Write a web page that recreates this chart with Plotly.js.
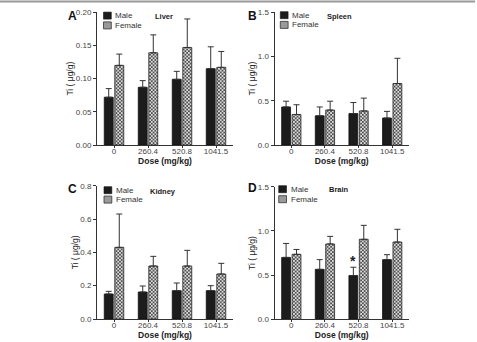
<!DOCTYPE html>
<html>
<head>
<meta charset="utf-8">
<script src="https://cdn.plot.ly/plotly-3.0.1.min.js"></script>
<style>html,body{margin:0;padding:0;background:#fff}#chart{width:477px;height:342px}</style>
</head>
<body>
<div id="chart"></div>
<script>
const doses = ['0', '260.4', '520.8', '1041.5'];
const seriesNames = ['Male', 'Female'];

// Liver (A)
const liverMale = [0.072, 0.087, 0.099, 0.115];
const liverMaleErr = [0.013, 0.010, 0.012, 0.033];
const liverFemale = [0.120, 0.139, 0.147, 0.117];
const liverFemaleErr = [0.017, 0.027, 0.043, 0.024];

// Spleen (B)
const spleenMale = [0.43, 0.33, 0.355, 0.305];
const spleenMaleErr = [0.065, 0.10, 0.125, 0.075];
const spleenFemale = [0.345, 0.395, 0.385, 0.695];
const spleenFemaleErr = [0.11, 0.10, 0.145, 0.285];

// Kidney (C)
const kidneyMale = [0.150, 0.162, 0.170, 0.170];
const kidneyMaleErr = [0.016, 0.036, 0.046, 0.030];
const kidneyFemale = [0.430, 0.318, 0.318, 0.270];
const kidneyFemaleErr = [0.200, 0.058, 0.094, 0.064];

// Brain (D)
const brainMale = [0.70, 0.565, 0.495, 0.675];
const brainMaleErr = [0.158, 0.110, 0.094, 0.056];
const brainFemale = [0.735, 0.852, 0.905, 0.874];
const brainFemaleErr = [0.055, 0.086, 0.158, 0.144];

const panels = [
  {letter: 'A', organ: 'Liver', m: liverMale, me: liverMaleErr, f: liverFemale, fe: liverFemaleErr,
   ticks: [0, 0.05, 0.10, 0.15, 0.20], fmt: '.2f', max: 0.20},
  {letter: 'B', organ: 'Spleen', m: spleenMale, me: spleenMaleErr, f: spleenFemale, fe: spleenFemaleErr,
   ticks: [0, 0.5, 1.0, 1.5], fmt: '.1f', max: 1.5},
  {letter: 'C', organ: 'Kidney', m: kidneyMale, me: kidneyMaleErr, f: kidneyFemale, fe: kidneyFemaleErr,
   ticks: [0, 0.2, 0.4, 0.6, 0.8], fmt: '.1f', max: 0.8},
  {letter: 'D', organ: 'Brain', m: brainMale, me: brainMaleErr, f: brainFemale, fe: brainFemaleErr,
   ticks: [0, 0.5, 1.0, 1.5], fmt: '.1f', max: 1.5}
];

// significance star: Brain, male, 520.8
const starDose = '520.8';
const starY = 0.66;

const W = 477, H = 342;
const xDom = [[97, 233], [274.5, 409], [97, 233], [274.5, 409]];
const yPix = [[145, 12.3], [145, 12.3], [319, 185.7], [319.3, 186.7]];
// legend key placement: swatch left x, male centre y, female centre y
const keyPos = [[103.5, 15.6, 25.4], [280.3, 15.2, 24.9], [104, 190.2, 199.6], [278.7, 189.2, 199.2]];
const letterPos = [[72, 16], [252, 16], [72, 189], [252, 188]];
const organPos = [[164, 16], [339, 16], [163, 191], [339, 189]];

const px = v => v / W;
const py = v => 1 - v / H;

const maleColor = '#1c1c1c';
const femalePattern = {shape: 'x', size: 2.5, solidity: 0.5, fgcolor: '#333', bgcolor: '#dcdcdc'};

const traces = [];
const layout = {
  width: W, height: H,
  margin: {l: 0, r: 0, t: 0, b: 0},
  paper_bgcolor: '#fff', plot_bgcolor: '#fff',
  barmode: 'group', bargap: 0.38, bargroupgap: 0.15,
  font: {family: 'Liberation Sans, Arial, sans-serif', size: 8, color: '#333'},
  showlegend: false,
  annotations: [],
  shapes: [{type: 'line', xref: 'paper', yref: 'paper', x0: 0, x1: 0.996, y0: py(1.5), y1: py(1.5),
            line: {color: '#999', width: 2}}]
};

panels.forEach((p, i) => {
  const n = i + 1;
  const sfx = n === 1 ? '' : String(n);
  const xa = 'x' + sfx, ya = 'y' + sfx;
  traces.push({
    type: 'bar', x: doses, y: p.m, name: seriesNames[0], xaxis: xa, yaxis: ya,
    marker: {color: maleColor, line: {color: '#111', width: 0.8}},
    error_y: {type: 'data', array: p.me, arrayminus: p.me.map(() => 0), symmetric: false,
              color: '#333', thickness: 1, width: 3}
  });
  traces.push({
    type: 'bar', x: doses, y: p.f, name: seriesNames[1], xaxis: xa, yaxis: ya,
    marker: {color: '#d8d8d8', line: {color: '#222', width: 0.8}, pattern: femalePattern},
    error_y: {type: 'data', array: p.fe, arrayminus: p.fe.map(() => 0), symmetric: false,
              color: '#333', thickness: 1, width: 3}
  });
  layout['xaxis' + sfx] = {
    type: 'category', domain: [px(xDom[i][0]), px(xDom[i][1])], range: [-0.5, 3.5],
    anchor: ya, showline: true, linecolor: '#333', linewidth: 1,
    ticks: 'outside', ticklen: 2, tickcolor: '#333', showgrid: false, zeroline: false,
    ticklabelstandoff: -4,
    tickfont: {size: 8, color: '#444'},
    title: {text: 'Dose (mg/kg)', font: {size: 8.5, color: '#222', weight: 'bold'}, standoff: 0},
    fixedrange: true
  };
  layout['yaxis' + sfx] = {
    domain: [py(yPix[i][0]), py(yPix[i][1])], range: [0, p.max],
    anchor: xa, showline: true, linecolor: '#333', linewidth: 1,
    ticks: 'outside', ticklen: 3, tickcolor: '#333', showgrid: false, zeroline: false,
    tickvals: p.ticks, tickformat: p.fmt, tickfont: {size: 8, color: '#444'},
    title: {text: 'Ti ( μg/g)', font: {size: 8.5, color: '#222'}, standoff: 0},
    fixedrange: true
  };

  // legend key: swatches + labels
  const k = keyPos[i];
  const sw = 7.8, sh = 7;
  layout.shapes.push({type: 'rect', xref: 'paper', yref: 'paper',
    x0: px(k[0]), x1: px(k[0] + sw), y0: py(k[1] + sh / 2), y1: py(k[1] - sh / 2),
    fillcolor: maleColor, line: {color: '#111', width: 0.6}});
  layout.shapes.push({type: 'rect', xref: 'paper', yref: 'paper',
    x0: px(k[0]), x1: px(k[0] + sw), y0: py(k[2] + sh / 2), y1: py(k[2] - sh / 2),
    fillcolor: '#9a9a9a', line: {color: '#333', width: 0.8}});
  layout.annotations.push({xref: 'paper', yref: 'paper', x: px(k[0] + sw + 2), y: py(k[1]),
    text: seriesNames[0], showarrow: false, xanchor: 'left', yanchor: 'middle',
    font: {size: 8, color: '#333'}});
  layout.annotations.push({xref: 'paper', yref: 'paper', x: px(k[0] + sw + 2), y: py(k[2]),
    text: seriesNames[1], showarrow: false, xanchor: 'left', yanchor: 'middle',
    font: {size: 8, color: '#333'}});

  layout.annotations.push({
    xref: 'paper', yref: 'paper', x: px(letterPos[i][0]), y: py(letterPos[i][1]),
    text: '<b>' + p.letter + '</b>', showarrow: false, font: {size: 12, color: '#111'},
    xanchor: 'center', yanchor: 'middle'
  });
  layout.annotations.push({
    xref: 'paper', yref: 'paper', x: px(organPos[i][0]), y: py(organPos[i][1]),
    text: '<b>' + p.organ + '</b>', showarrow: false, font: {size: 7.5, color: '#222'},
    xanchor: 'center', yanchor: 'middle'
  });
});

layout.annotations.push({
  xref: 'x4', yref: 'y4', x: doses.indexOf(starDose) - 0.155, y: starY,
  text: '<b>*</b>', showarrow: false, font: {size: 14, color: '#222'}, yanchor: 'middle'
});

Plotly.newPlot('chart', traces, layout, {staticPlot: true, displayModeBar: false});
</script>
</body>
</html>
